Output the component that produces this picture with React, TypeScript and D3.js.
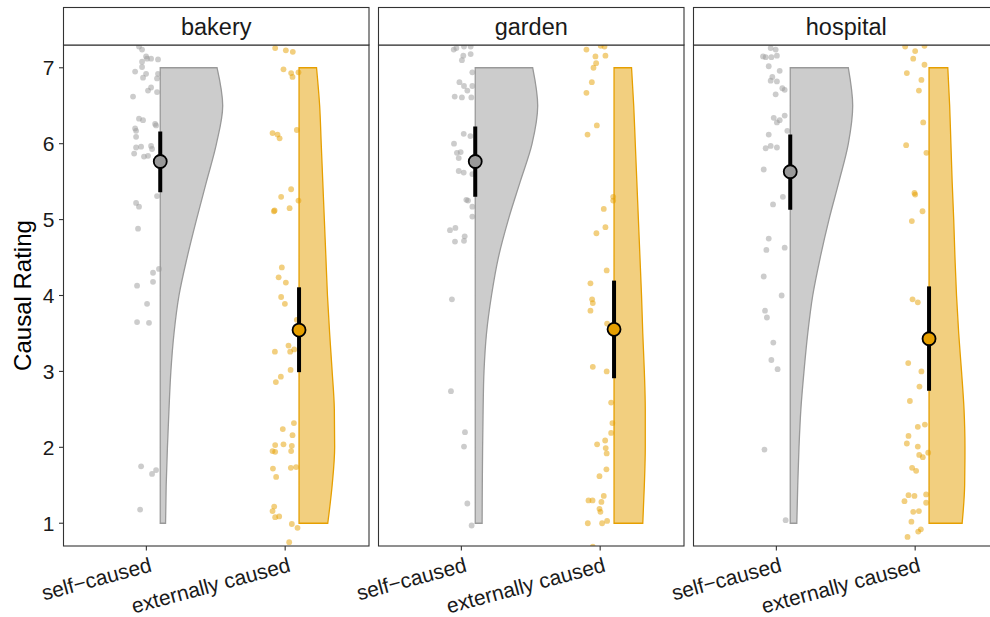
import React from 'react';
import * as d3 from 'd3';

// Facets and conditions
const scenarios = ['bakery', 'garden', 'hospital'];
const causes = ['self\u2212caused', 'externally caused'];
const yTicks = [1, 2, 3, 4, 5, 6, 7];

// Rating grid on which the half-violin densities are given (normalised per facet)
const densityGrid = [1, 1.5, 2, 2.5, 3, 3.5, 4, 4.5, 5, 5.5, 6, 6.5, 7];
const bakerySelfDensity = [0.085, 0.095, 0.115, 0.14, 0.17, 0.22, 0.3, 0.43, 0.58, 0.74, 0.9, 1.0, 0.91];
const bakeryExtDensity = [0.46, 0.53, 0.57, 0.565, 0.53, 0.49, 0.455, 0.43, 0.405, 0.38, 0.355, 0.33, 0.28];
const gardenSelfDensity = [0.11, 0.113, 0.118, 0.126, 0.14, 0.18, 0.26, 0.37, 0.53, 0.72, 0.91, 1.0, 0.92];
const gardenExtDensity = [0.46, 0.485, 0.5, 0.5, 0.485, 0.46, 0.44, 0.415, 0.39, 0.365, 0.34, 0.315, 0.28];
const hospitalSelfDensity = [0.105, 0.12, 0.14, 0.17, 0.22, 0.28, 0.36, 0.48, 0.62, 0.78, 0.93, 1.0, 0.93];
const hospitalExtDensity = [0.53, 0.57, 0.575, 0.56, 0.52, 0.475, 0.44, 0.415, 0.395, 0.37, 0.35, 0.33, 0.3];

// Means with 95% confidence intervals, one entry per scenario
const selfMeans = [5.765, 5.765, 5.63];
const selfCiLow = [5.36, 5.3, 5.13];
const selfCiHigh = [6.16, 6.226, 6.12];
const extMeans = [3.545, 3.554, 3.43];
const extCiLow = [2.99, 2.91, 2.745];
const extCiHigh = [4.108, 4.196, 4.12];

// Jittered responses: [horizontal jitter in category units, jittered rating]
const bakerySelfPoints: [number, number][] = [
  [-0.053, 7.28], [-0.031, 7.24], [-0.002, 7.15], [0.005, 7.12], [0.034, 7.12], [0.084, 7.11],
  [-0.031, 7.08], [-0.031, 7.01], [-0.081, 6.95], [-0.002, 6.92], [0.084, 6.92], [-0.024, 6.87],
  [0.077, 6.86], [0.034, 6.74], [0.012, 6.7], [0.077, 6.68], [-0.096, 6.62], [-0.053, 6.33],
  [-0.024, 6.31], [0.063, 6.26], [0.07, 6.24], [-0.081, 6.2], [-0.074, 6.17], [-0.074, 6.09],
  [-0.074, 5.95], [-0.038, 5.96], [0.034, 5.97], [0.041, 5.93], [-0.088, 5.87], [-0.017, 5.83],
  [0.012, 5.84], [0.077, 5.31], [-0.074, 5.22], [-0.053, 5.17], [-0.06, 4.88], [0.091, 4.35],
  [0.048, 4.3], [0.048, 4.18], [-0.067, 4.13], [0.005, 3.89], [-0.067, 3.65], [0.019, 3.64],
  [-0.038, 1.75], [0.041, 1.65], [0.07, 1.7], [-0.045, 1.18],
];
const bakeryExtPoints: [number, number][] = [
  [-0.072, 7.26], [0.005, 7.23], [0.055, 7.21], [-0.012, 6.98], [0.043, 6.93], [0.053, 6.88],
  [0.096, 6.94], [0.084, 6.18], [-0.091, 6.14], [-0.055, 6.12], [-0.04, 6.07], [0.043, 5.4],
  [-0.029, 5.3], [0.096, 5.25], [0.032, 5.15], [-0.081, 5.11], [-0.076, 5.12], [-0.024, 4.37],
  [-0.047, 4.24], [0.005, 4.17], [-0.029, 3.98], [-0.002, 3.89], [0.084, 3.68], [0.024, 3.34],
  [-0.074, 3.26], [0.036, 3.26], [0.065, 3.29], [-0.031, 2.93], [-0.067, 2.86], [0.039, 3.02],
  [0.063, 2.32], [-0.017, 2.24], [0.053, 2.16], [-0.072, 2.03], [-0.012, 2.04], [0.048, 2.02],
  [-0.091, 1.95], [-0.072, 1.94], [0.043, 1.95], [0.041, 1.73], [0.079, 1.74], [-0.088, 1.72],
  [-0.065, 1.61], [-0.079, 1.22], [-0.091, 1.16], [-0.072, 1.08], [-0.043, 1.09], [0.048, 0.99],
  [0.089, 0.94], [0.029, 0.75],
];
const gardenSelfPoints: [number, number][] = [
  [-0.055, 7.24], [-0.036, 7.26], [0.019, 7.28], [0.067, 7.28], [0.014, 7.16], [0.067, 7.18],
  [0.004, 7.1], [0.079, 6.94], [-0.014, 6.81], [0.019, 6.76], [0.043, 6.7], [0.079, 6.76],
  [-0.048, 6.62], [0.004, 6.61], [0.072, 6.61], [0.017, 6.13], [0.065, 6.1], [-0.053, 6.0],
  [-0.032, 5.88], [-0.005, 5.89], [-0.019, 5.81], [-0.019, 5.64], [0.017, 5.62], [0.079, 5.6],
  [0.036, 5.26], [0.048, 5.25], [0.079, 5.17], [0.079, 5.04], [-0.082, 4.86], [-0.043, 4.89],
  [0.024, 4.78], [-0.046, 4.71], [0.019, 4.72], [-0.068, 3.95], [-0.075, 2.74], [0.026, 2.2],
  [0.019, 2.01], [0.043, 1.26], [0.074, 0.97],
];
const gardenExtPoints: [number, number][] = [
  [-0.099, 7.24], [0.004, 7.29], [0.031, 7.28], [-0.034, 7.15], [0.038, 7.16], [-0.029, 7.06],
  [-0.048, 7.0], [-0.06, 6.81], [-0.099, 6.67], [-0.024, 6.24], [-0.091, 6.12], [0.094, 5.3],
  [0.094, 5.25], [0.026, 5.14], [0.038, 4.9], [-0.027, 4.82], [0.047, 4.33], [-0.07, 4.16],
  [-0.058, 3.95], [-0.053, 3.9], [-0.07, 3.8], [0.05, 3.63], [-0.053, 3.06], [0.047, 3.0],
  [0.079, 2.59], [0.088, 2.32], [0.079, 2.19], [0.036, 2.09], [-0.022, 2.04], [0.04, 1.99],
  [0.047, 1.92], [0.045, 1.71], [-0.005, 1.62], [0.026, 1.36], [-0.084, 1.3], [-0.055, 1.3],
  [0.009, 1.28], [-0.005, 1.19], [0.002, 1.15], [-0.089, 1.0], [0.014, 1.0], [0.05, 1.03],
  [-0.053, 0.69],
];
const hospitalSelfPoints: [number, number][] = [
  [-0.041, 7.26], [-0.005, 7.24], [0.004, 7.16], [-0.036, 7.14], [-0.077, 7.14], [-0.096, 7.15],
  [-0.055, 7.02], [0.024, 6.96], [-0.029, 6.88], [-0.041, 6.83], [0.004, 6.82], [0.043, 6.73],
  [0.06, 6.71], [-0.005, 6.65], [0.06, 6.37], [-0.019, 6.34], [0.004, 6.28], [0.024, 6.31],
  [0.079, 6.17], [-0.055, 6.12], [-0.041, 5.97], [-0.077, 5.94], [0.004, 5.95], [-0.091, 5.66],
  [0.047, 5.3], [-0.024, 5.2], [-0.055, 4.75], [-0.072, 4.6], [0.06, 4.63], [-0.091, 4.25],
  [0.038, 4.0], [-0.082, 3.8], [-0.068, 3.71], [-0.022, 3.38], [-0.036, 3.15], [0.009, 3.03],
  [-0.086, 1.97], [0.067, 1.04],
];
const hospitalExtPoints: [number, number][] = [
  [-0.072, 7.28], [0.0, 7.22], [0.067, 7.29], [-0.014, 7.12], [0.067, 7.04], [-0.06, 6.93],
  [0.045, 6.84], [0.027, 6.7], [0.058, 6.28], [-0.065, 5.98], [0.081, 5.88], [-0.005, 5.35],
  [0.0, 5.33], [0.053, 5.11], [-0.024, 4.98], [-0.019, 3.95], [0.019, 3.91], [-0.05, 3.11],
  [0.045, 3.0], [0.031, 2.8], [-0.038, 2.61], [0.019, 2.27], [0.07, 2.3], [-0.048, 2.15],
  [-0.06, 2.05], [0.019, 2.01], [0.029, 1.9], [0.055, 1.87], [0.094, 1.93], [-0.022, 1.73],
  [0.007, 1.69], [-0.048, 1.37], [-0.005, 1.36], [0.079, 1.38], [-0.077, 1.29], [0.079, 1.27],
  [-0.014, 1.15], [0.027, 1.16], [-0.027, 1.02], [0.041, 0.92], [0.022, 0.89], [-0.055, 0.82],
];

const selfDensities = [bakerySelfDensity, gardenSelfDensity, hospitalSelfDensity];
const extDensities = [bakeryExtDensity, gardenExtDensity, hospitalExtDensity];
const selfPoints = [bakerySelfPoints, gardenSelfPoints, hospitalSelfPoints];
const extPoints = [bakeryExtPoints, gardenExtPoints, hospitalExtPoints];

const COLORS = ['#999999', '#E69F00'];
const FONT = '"Liberation Sans", Arial, Helvetica, sans-serif';

const W = 990;
const H = 617;
const stripTop = 7.5;
const panelTop = 45;
const panelBottom = 546;
const panelLeft0 = 63.5;
const panelW = 305.5;
const panelStep = 315;
const nudge = 0.1;
const halfWidth = 0.45;

const y = d3.scaleLinear().domain([0.7, 7.3]).range([panelBottom, panelTop]);

export default function App() {
  return (
    <svg
      width={W}
      height={H}
      style={{ position: 'absolute', left: 0, top: 0, background: '#fff' }}
      fontFamily={FONT}
    >
      <defs>
        {scenarios.map((s, i) => (
          <clipPath id={`clip-${s}`} key={s}>
            <rect x={panelLeft0 + i * panelStep} y={panelTop} width={panelW} height={panelBottom - panelTop} />
          </clipPath>
        ))}
      </defs>
      <rect x={0} y={0} width={W} height={H} fill="#fff" />

      {scenarios.map((s, i) => {
        const left = panelLeft0 + i * panelStep;
        const x = d3.scaleLinear().domain([0.403, 2.604]).range([left, left + panelW]);
        const groups = [
          { pos: 1, dens: selfDensities[i], pts: selfPoints[i], m: selfMeans[i], lo: selfCiLow[i], hi: selfCiHigh[i] },
          { pos: 2, dens: extDensities[i], pts: extPoints[i], m: extMeans[i], lo: extCiLow[i], hi: extCiHigh[i] },
        ];
        return (
          <g key={s}>
            <g clipPath={`url(#clip-${s})`}>
              {groups.map((g, gi) => {
                const area = d3
                  .area<number>()
                  .curve(d3.curveMonotoneY)
                  .y((_, k) => y(densityGrid[k]))
                  .x0(x(g.pos + nudge))
                  .x1((d) => x(g.pos + nudge + halfWidth * d));
                return (
                  <path
                    key={`v${gi}`}
                    d={area(g.dens) || ''}
                    fill={COLORS[gi]}
                    fillOpacity={0.5}
                    stroke={COLORS[gi]}
                    strokeWidth={1.3}
                  />
                );
              })}
              {groups.map((g, gi) =>
                g.pts.map((p, k) => (
                  <circle
                    key={`p${gi}-${k}`}
                    cx={x(g.pos + p[0])}
                    cy={y(p[1])}
                    r={2.9}
                    fill={COLORS[gi]}
                    fillOpacity={0.5}
                  />
                ))
              )}
              {groups.map((g, gi) => (
                <g key={`m${gi}`}>
                  <line
                    x1={x(g.pos + nudge)}
                    x2={x(g.pos + nudge)}
                    y1={y(g.lo)}
                    y2={y(g.hi)}
                    stroke="#000"
                    strokeWidth={4}
                  />
                  <circle cx={x(g.pos + nudge)} cy={y(g.m)} r={6.5} fill={COLORS[gi]} stroke="#000" strokeWidth={1.8} />
                </g>
              ))}
            </g>

            {/* panel border */}
            <rect x={left} y={panelTop} width={panelW} height={panelBottom - panelTop} fill="none" stroke="#333" strokeWidth={1.1} />
            {/* strip */}
            <rect x={left} y={stripTop} width={panelW} height={panelTop - stripTop} fill="#fff" stroke="#333" strokeWidth={1.1} />
            <text x={left + panelW / 2} y={(stripTop + panelTop) / 2} dy="0.36em" textAnchor="middle" fontSize={23.5} fill="#1a1a1a">
              {s}
            </text>

            {/* x axis */}
            {causes.map((c, ci) => {
              const tx = x(ci + 1);
              return (
                <g key={c}>
                  <line x1={tx} x2={tx} y1={panelBottom} y2={panelBottom + 4.5} stroke="#333" strokeWidth={1.1} />
                  <text
                    transform={`translate(${tx + 2},${panelBottom + 9}) rotate(-15)`}
                    textAnchor="end"
                    dy="0.8em"
                    fontSize={21}
                    fill="#1a1a1a"
                  >
                    {c}
                  </text>
                </g>
              );
            })}
          </g>
        );
      })}

      {/* y axis */}
      {yTicks.map((t) => (
        <g key={t}>
          <line x1={panelLeft0 - 4.5} x2={panelLeft0} y1={y(t)} y2={y(t)} stroke="#333" strokeWidth={1.1} />
          <text x={panelLeft0 - 9} y={y(t)} dy="0.36em" textAnchor="end" fontSize={21} fill="#1a1a1a">
            {t}
          </text>
        </g>
      ))}
      <text
        transform={`translate(22,${(panelTop + panelBottom) / 2}) rotate(-90)`}
        textAnchor="middle"
        dy="0.36em"
        fontSize={24}
        fill="#000"
      >
        Causal Rating
      </text>
    </svg>
  );
}
